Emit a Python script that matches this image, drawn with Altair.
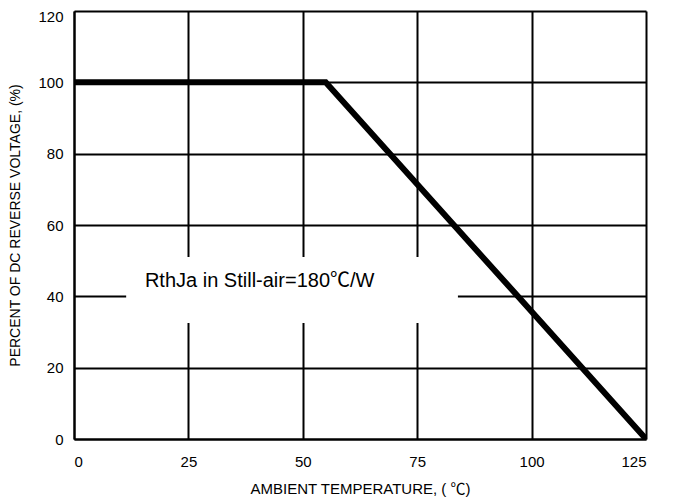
import altair as alt
import pandas as pd

# Derating curve
temps = [0, 55, 125]
percents = [100, 100, 0]

x_ticks = [0, 25, 50, 75, 100, 125]
y_ticks = [0, 20, 40, 60, 80, 100, 120]

note_text = "RthJa in Still-air=180℃/W"
box_x = [11.4, 83.9]
box_y = [32.5, 51.0]
note_pos = [15.5, 44.2]

line_df = pd.DataFrame({"t": temps, "p": percents})
box_df = pd.DataFrame({"x1": [box_x[0]], "x2": [box_x[1]], "y1": [box_y[0]], "y2": [box_y[1]]})
note_df = pd.DataFrame({"x": [note_pos[0]], "y": [note_pos[1]], "label": [note_text]})

FONT = "Liberation Sans, Noto Sans CJK SC"

xscale = alt.Scale(domain=[0, 125], nice=False)
yscale = alt.Scale(domain=[0, 120], nice=False)

xaxis = alt.Axis(values=x_ticks, title="AMBIENT TEMPERATURE, ( ℃)", grid=True,
                 gridColor="black", gridWidth=2, gridOpacity=1,
                 domainColor="black", domainWidth=2, ticks=False,
                 labelPadding=15, labelFontSize=15, labelColor="black",
                 labelFont=FONT, titleFont=FONT, titleFontSize=15,
                 titleFontWeight="normal", titleColor="black", titlePadding=12)
yaxis = alt.Axis(values=y_ticks, title="PERCENT OF DC REVERSE VOLTAGE, (%)", grid=True,
                 gridColor="black", gridWidth=2, gridOpacity=1,
                 domainColor="black", domainWidth=2, ticks=False,
                 labelPadding=11, labelFontSize=15, labelColor="black",
                 labelOffset={"condition": {"test": "datum.value == 120", "value": 5}, "value": 0},
                 labelFont=FONT, titleFont=FONT, titleFontSize=14,
                 titleFontWeight="normal", titleColor="black", titlePadding=15)

box = alt.Chart(box_df).mark_rect(color="white", opacity=1).encode(
    x=alt.X("x1:Q", scale=xscale, axis=xaxis),
    x2="x2:Q",
    y=alt.Y("y1:Q", scale=yscale, axis=yaxis),
    y2="y2:Q",
)

line = alt.Chart(line_df).mark_line(color="black", strokeWidth=6, clip=True).encode(
    x=alt.X("t:Q", scale=xscale),
    y=alt.Y("p:Q", scale=yscale),
)

note = alt.Chart(note_df).mark_text(align="left", baseline="middle", font=FONT,
                                     fontSize=20, color="black").encode(
    x=alt.X("x:Q", scale=xscale),
    y=alt.Y("y:Q", scale=yscale),
    text="label:N",
)

chart = alt.layer(box, line, note).properties(
    width=572, height=428,
    autosize=alt.AutoSizeParams(type="none"),
    padding={"left": 66, "top": 3, "right": 14, "bottom": 60},
).configure_view(stroke=None).configure(background="white")

chart.save("out.html", embed_options={"renderer": "svg", "actions": False})
